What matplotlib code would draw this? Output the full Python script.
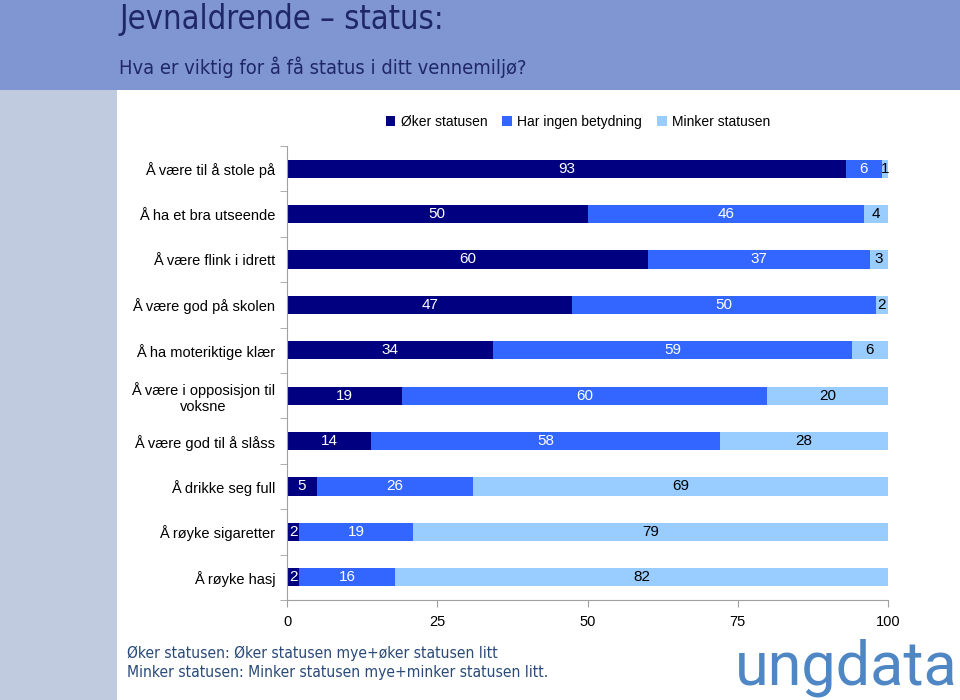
import matplotlib
matplotlib.use("Agg")
import matplotlib.pyplot as plt
import numpy as np
from matplotlib.patches import Rectangle

# --- Data -------------------------------------------------------

categories = [
    "Å være til å stole på",
    "Å ha et bra utseende",
    "Å være flink i idrett",
    "Å være god på skolen",
    "Å ha moteriktige klær",
    "Å være i opposisjon til\nvoksne",
    "Å være god til å slåss",
    "Å drikke seg full",
    "Å røyke sigaretter",
    "Å røyke hasj",
]
series_names = ["Øker statusen", "Har ingen betydning", "Minker statusen"]
oker = [93, 50, 60, 47, 34, 19, 14, 5, 2, 2]
ingen = [6, 46, 37, 50, 59, 60, 58, 26, 19, 16]
minker = [1, 4, 3, 2, 6, 20, 28, 69, 79, 82]
x_ticks = [0, 25, 50, 75, 100]

# --- Style -------------------------------------------------------

plt.rcParams["font.family"] = ["Liberation Sans", "DejaVu Sans"]
colors = ["#000080", "#3366ff", "#99ccff"]
text_colors = ["white", "white", "black"]

fig = plt.figure(figsize=(9.6, 7.0), dpi=100)
fig.patch.set_facecolor("white")

# background bands
fig.patches.append(Rectangle((0, 1 - 90 / 700), 1, 90 / 700, transform=fig.transFigure,
                             facecolor="#8096d3", edgecolor="none", zorder=0))
fig.patches.append(Rectangle((0, 0), 117 / 960, 1 - 90 / 700, transform=fig.transFigure,
                             facecolor="#c1cbdf", edgecolor="none", zorder=0))

fig.text(119 / 960, 1 - 19 / 700, "Jevnaldrende – status:", fontsize=23.5, color="#1f2766",
         family="DejaVu Sans", fontstretch="condensed", va="center", ha="left")
fig.text(119 / 960, 1 - 67 / 700, "Hva er viktig for å få status i ditt vennemiljø?", fontsize=14.4,
         color="#1f2766", family="DejaVu Sans", fontstretch="condensed", va="center", ha="left")

ax = fig.add_axes([287 / 960, 1 - 600 / 700, (888 - 287) / 960, (600 - 146) / 700])

# 100 % stacked bars
data = np.array([oker, ingen, minker], dtype=float)
pct = data / data.sum(axis=0) * 100
y = np.arange(len(categories))
left = np.zeros(len(categories))
for k in range(3):
    ax.barh(y, pct[k], left=left, height=0.4, color=colors[k], label=series_names[k],
            edgecolor="none")
    for i in range(len(categories)):
        ax.text(left[i] + pct[k][i] / 2, y[i], str(int(data[k][i])), ha="center",
                va="center", color=text_colors[k], fontsize=11)
    left += pct[k]

ax.set_ylim(len(categories) - 0.5, -0.5)
ax.set_xlim(0, 100)
ax.set_yticks(y)
ax.set_yticklabels(categories, multialignment="center")
ax.set_yticks(np.arange(-0.5, len(categories)), minor=True)
ax.tick_params(axis="y", which="major", length=0, pad=8.5, labelsize=10.5)
ax.tick_params(axis="y", which="minor", length=5, color="#a0a0a0")
ax.set_xticks(x_ticks)
ax.tick_params(axis="x", length=5, color="#a0a0a0", labelsize=10.5, pad=6)
for s in ["top", "right"]:
    ax.spines[s].set_visible(False)
ax.spines["left"].set_color("#a0a0a0")
ax.spines["bottom"].set_color("#a0a0a0")

fig.legend(loc="center", bbox_to_anchor=(578 / 960, 1 - 122 / 700), ncol=3, frameon=False,
           fontsize=10, handlelength=0.7, handleheight=0.7, handletextpad=0.4, columnspacing=1.05)

fig.text(127 / 960, 1 - 653 / 700, "Øker statusen: Øker statusen mye+øker statusen litt",
         fontsize=11.2, color="#2a4a78", family="DejaVu Sans", fontstretch="condensed", va="center")
fig.text(127 / 960, 1 - 673 / 700, "Minker statusen: Minker statusen mye+minker statusen litt.",
         fontsize=11.2, color="#2a4a78", family="DejaVu Sans", fontstretch="condensed", va="center")

fig.text(958 / 960, 1 - 668 / 700, "ungdata", fontsize=44, color="#4f87c4", family="Roboto",
         fontweight="normal", ha="right", va="center")

fig.savefig("out.png", dpi=100)
